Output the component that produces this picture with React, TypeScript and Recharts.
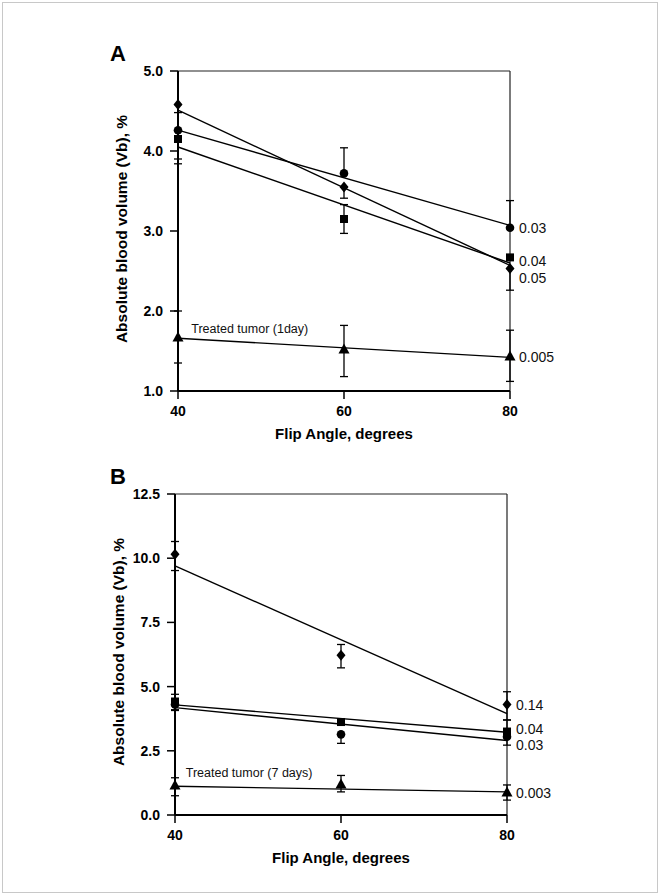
import React from "react";
import { ComposedChart, Line, Scatter, ErrorBar, XAxis, YAxis, ReferenceLine } from "recharts";

const angles = [40, 60, 80];
const fitAngles = [40, 80];

// Panel A - 1 day
const aDiamond = [4.58, 3.55, 2.53];
const aCircle = [4.26, 3.72, 3.04];
const aSquare = [4.15, 3.15, 2.67];
const aTriangle = [1.67, 1.52, 1.43];
const aDiamondErr = [[0.1, 0], [0.14, 0], [0.27, 0]];
const aCircleErr = [[0.36, 0], [0, 0.32], [0, 0.34]];
const aSquareErr = [[0.31, 0], [0.18, 0.18], [0, 0]];
const aTriangleErr = [[0.32, 0.33], [0.34, 0.3], [0.31, 0.33]];
const aDiamondFit = [4.51, 2.57];
const aCircleFit = [4.26, 3.07];
const aSquareFit = [4.05, 2.6];
const aTriangleFit = [1.66, 1.42];
const aTicks = [1, 2, 3, 4, 5];
const aNotes = ["0.03", "0.04", "0.05", "0.005"];
const aNoteY = [3.04, 2.62, 2.41, 1.43];

// Panel B - 7 days
const bDiamond = [10.15, 6.22, 4.3];
const bSquare = [4.42, 3.62, 3.25];
const bCircle = [4.3, 3.14, 3.05];
const bTriangle = [1.15, 1.19, 0.88];
const bDiamondErr = [[0.63, 0.5], [0.49, 0.42], [0.6, 0.5]];
const bSquareErr = [[0.35, 0.28], [0, 0], [0, 0.45]];
const bCircleErr = [[0.2, 0], [0.35, 0], [0.33, 0]];
const bTriangleErr = [[0.4, 0.3], [0.29, 0.35], [0.3, 0.29]];
const bDiamondFit = [9.7, 3.95];
const bSquareFit = [4.29, 3.22];
const bCircleFit = [4.18, 2.9];
const bTriangleFit = [1.12, 0.9];
const bTicks = [0, 2.5, 5, 7.5, 10, 12.5];
const bNotes = ["0.14", "0.04", "0.03", "0.003"];
const bNoteY = [4.28, 3.35, 2.72, 0.86];

const font = "'Liberation Sans', Arial, Helvetica, sans-serif";

const pts = (vals: number[], errs: number[][]) =>
  vals.map((y, i) => ({ x: angles[i], y, err: errs[i] }));
const fit = (vals: number[]) => vals.map((y, i) => ({ x: fitAngles[i], y }));
const notes = (texts: string[], ys: number[]) => texts.map((t, i) => ({ x: 80, y: ys[i], text: t }));

const marker = (kind: string) => (p: any) => {
  const { cx, cy } = p;
  if (cx == null || cy == null) return <g />;
  if (kind === "diamond")
    return <polygon points={`${cx},${cy - 5.5} ${cx + 4.5},${cy} ${cx},${cy + 5.5} ${cx - 4.5},${cy}`} fill="#000" />;
  if (kind === "circle") return <circle cx={cx} cy={cy} r={4.3} fill="#000" />;
  if (kind === "square") return <rect x={cx - 4} y={cy - 4} width={8} height={8} fill="#000" />;
  return <polygon points={`${cx},${cy - 6} ${cx + 5.5},${cy + 4} ${cx - 5.5},${cy + 4}`} fill="#000" />;
};

const noteShape = (p: any) => (
  <text x={p.cx + 9} y={p.cy + 5} fontSize={14} fontFamily={font} fill="#111">
    {p.payload.text}
  </text>
);

const treatedShape = (label: string) => (p: any) => (
  <text x={p.cx} y={p.cy} fontSize={12.5} fontFamily={font} fill="#111">
    {label}
  </text>
);

const tickFont = { fill: "#000", fontSize: 14, fontWeight: 700, fontFamily: font };

function Panel({ series, fits, ticks, domain, noteData, treated, size }: any) {
  return (
    <ComposedChart width={660} height={size.h} margin={size.m}>
      <XAxis
        dataKey="x"
        type="number"
        domain={[40, 80]}
        ticks={angles}
        height={30}
        axisLine={{ stroke: "#000", strokeWidth: 2 }}
        tickLine={{ stroke: "#000", strokeWidth: 1.5 }}
        tickSize={8}
        tickMargin={7}
        tick={tickFont}
      />
      <YAxis
        dataKey="y"
        type="number"
        domain={domain}
        ticks={ticks}
        width={60}
        interval={0}
        tickFormatter={(v: number) => v.toFixed(1)}
        axisLine={{ stroke: "#000", strokeWidth: 2 }}
        tickLine={{ stroke: "#000", strokeWidth: 1.5 }}
        tickSize={8}
        tickMargin={7}
        tick={tickFont}
      />
      <ReferenceLine y={domain[1]} stroke="#222" strokeWidth={1.2} />
      <ReferenceLine x={80} stroke="#222" strokeWidth={1.2} />
      {fits.map((f: any, i: number) => (
        <Line key={"f" + i} data={f} dataKey="y" type="linear" stroke="#000" strokeWidth={1.4} dot={false} isAnimationActive={false} />
      ))}
      {series.map((s: any, i: number) => (
        <Scatter key={"s" + i} data={s.data} shape={marker(s.kind)} isAnimationActive={false}>
          <ErrorBar dataKey="err" direction="y" width={4} stroke="#000" strokeWidth={1.3} />
        </Scatter>
      ))}
      <Scatter data={noteData} shape={noteShape} isAnimationActive={false} />
      <Scatter data={[treated.pos]} shape={treatedShape(treated.label)} isAnimationActive={false} />
    </ComposedChart>
  );
}

const titleStyle: React.CSSProperties = { position: "absolute", fontFamily: font, fontWeight: 700, color: "#000", whiteSpace: "nowrap" };

export default function App() {
  return (
    <div style={{ position: "absolute", left: 0, top: 0, width: 660, height: 895, background: "#fff" }}>
      <div style={{ position: "absolute", left: 2, top: 2, width: 654, height: 889, border: "1px solid #c8c8c8" }} />
      <div style={{ position: "absolute", left: 0, top: 0 }}>
        <Panel
          series={[
            { kind: "diamond", data: pts(aDiamond, aDiamondErr) },
            { kind: "circle", data: pts(aCircle, aCircleErr) },
            { kind: "square", data: pts(aSquare, aSquareErr) },
            { kind: "triangle", data: pts(aTriangle, aTriangleErr) },
          ]}
          fits={[fit(aDiamondFit), fit(aCircleFit), fit(aSquareFit), fit(aTriangleFit)]}
          ticks={aTicks}
          domain={[1, 5]}
          noteData={notes(aNotes, aNoteY)}
          treated={{ label: "Treated tumor (1day)", pos: { x: 41.6, y: 1.72 } }}
          size={{ h: 440, m: { top: 71, right: 150, bottom: 19, left: 118 } }}
        />
      </div>
      <div style={{ position: "absolute", left: 0, top: 440 }}>
        <Panel
          series={[
            { kind: "diamond", data: pts(bDiamond, bDiamondErr) },
            { kind: "square", data: pts(bSquare, bSquareErr) },
            { kind: "circle", data: pts(bCircle, bCircleErr) },
            { kind: "triangle", data: pts(bTriangle, bTriangleErr) },
          ]}
          fits={[fit(bDiamondFit), fit(bSquareFit), fit(bCircleFit), fit(bTriangleFit)]}
          ticks={bTicks}
          domain={[0, 12.5]}
          noteData={notes(bNotes, bNoteY)}
          treated={{ label: "Treated tumor (7 days)", pos: { x: 41.3, y: 1.47 } }}
          size={{ h: 455, m: { top: 54, right: 153, bottom: 50, left: 115 } }}
        />
      </div>
      <div style={{ ...titleStyle, left: 110, top: 41, fontSize: 22 }}>A</div>
      <div style={{ ...titleStyle, left: 110, top: 464, fontSize: 22 }}>B</div>
      <div style={{ ...titleStyle, left: 344, top: 433, fontSize: 15, transform: "translate(-50%,-50%)" }}>Flip Angle, degrees</div>
      <div style={{ ...titleStyle, left: 341, top: 857, fontSize: 15, transform: "translate(-50%,-50%)" }}>Flip Angle, degrees</div>
      <div style={{ ...titleStyle, left: 122, top: 229, fontSize: 15.5, transform: "translate(-50%,-50%) rotate(-90deg)" }}>Absolute blood volume (Vb), %</div>
      <div style={{ ...titleStyle, left: 119, top: 652, fontSize: 15.5, transform: "translate(-50%,-50%) rotate(-90deg)" }}>Absolute blood volume (Vb), %</div>
    </div>
  );
}
